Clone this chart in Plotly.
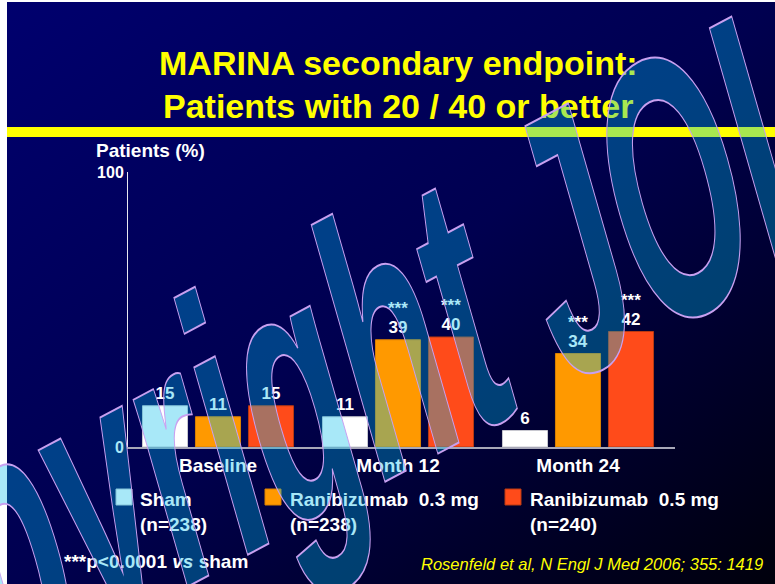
import base64
import plotly.graph_objects as go

# ---------------- data ----------------
categories = ["Baseline", "Month 12", "Month 24"]
series_names = ["Sham", "Ranibizumab 0.3 mg", "Ranibizumab 0.5 mg"]
series_n = ["(n=238)", "(n=238)", "(n=240)"]
sham = [15, 11, 6]
rani_03 = [11, 39, 34]
rani_05 = [15, 40, 42]
# significance markers (***p<0.0001 vs sham)
sig_sham = [False, False, False]
sig_03 = [False, True, True]
sig_05 = [False, True, True]
y_ticks = [0, 100]
title_lines = ["MARINA secondary endpoint:", "Patients with 20 / 40 or better"]
y_title = "Patients (%)"
footnote = "***p<0.0001 <i>vs</i> sham"
citation = "Rosenfeld et al, N Engl J Med 2006; 355: 1419"
watermark = "Copyright JOL"

# ---------------- style ----------------
W, H = 775, 584
FONT = "Liberation Sans, Arial, sans-serif"
colors = ["#ffffff", "#ff9900", "#ff4b1a"]
edge = ["#c8c8d0", "#d98000", "#b83a12"]
YELLOW = "#ffff00"


def px(x):
    return x / W


def py(y):
    return 1 - y / H


# plot area in pixels
X0, X1 = 128, 675
Y0, Y1 = 172, 447
BARGAP = 0.1167
BARGROUPGAP = 0.15
unit_px = 180.0  # pixels per category
slot_px = unit_px * (1 - BARGAP) / 3

fig = go.Figure()
all_series = [sham, rani_03, rani_05]
all_sig = [sig_sham, sig_03, sig_05]
for i, vals in enumerate(all_series):
    fig.add_trace(go.Bar(
        x=categories, y=vals, name=series_names[i],
        marker=dict(color=colors[i], line=dict(color=edge[i], width=1)),
        text=[str(v) for v in vals], textposition="outside",
        textfont=dict(family=FONT, size=17, color="white", weight="bold"),
        cliponaxis=False, showlegend=False,
    ))

annotations = []
# significance stars above value labels
for i, vals in enumerate(all_series):
    for j, v in enumerate(vals):
        if all_sig[i][j]:
            annotations.append(dict(
                x=categories[j], y=v, xref="x", yref="y",
                xshift=(i - 1) * slot_px, yshift=21, borderpad=0,
                text="***", showarrow=False, xanchor="center", yanchor="bottom",
                font=dict(family=FONT, size=17, color="white", weight="bold"),
            ))

# titles
annotations.append(dict(x=px(398), y=py(63), xref="paper", yref="paper",
                        text=title_lines[0], showarrow=False,
                        xanchor="center", yanchor="middle",
                        font=dict(family=FONT, size=34, color=YELLOW, weight="bold")))
annotations.append(dict(x=px(398), y=py(106), xref="paper", yref="paper",
                        text=title_lines[1], showarrow=False,
                        xanchor="center", yanchor="middle",
                        font=dict(family=FONT, size=34, color=YELLOW, weight="bold")))
# y title
annotations.append(dict(x=px(94), y=py(150), xref="paper", yref="paper",
                        text=y_title, showarrow=False,
                        xanchor="left", yanchor="middle",
                        font=dict(family=FONT, size=19, color="white", weight="bold")))
# manual legend
leg_sq_x = [116, 265, 505]
leg_txt_x = [138, 288, 528]
shapes = []
for i in range(3):
    shapes.append(dict(type="rect", xref="paper", yref="paper",
                       x0=px(leg_sq_x[i]), x1=px(leg_sq_x[i] + 16),
                       y0=py(505), y1=py(489),
                       fillcolor=colors[i], line=dict(color=edge[i], width=1)))
    annotations.append(dict(x=px(leg_txt_x[i]), y=py(487), xref="paper", yref="paper",
                            text=series_names[i].replace(" 0.", "\u00a0 0.") + "<br>" + series_n[i],
                            showarrow=False, xanchor="left", yanchor="top", align="left",
                            font=dict(family=FONT, size=19, color="white", weight="bold")))
# footnote and citation
annotations.append(dict(x=px(62), y=py(561), xref="paper", yref="paper",
                        text=footnote, showarrow=False, xanchor="left", yanchor="middle",
                        font=dict(family=FONT, size=19, color="white", weight="bold")))
annotations.append(dict(x=px(419), y=py(564), xref="paper", yref="paper",
                        text="<i>" + citation + "</i>", showarrow=False,
                        xanchor="left", yanchor="middle",
                        font=dict(family=FONT, size=16.5, color=YELLOW)))
# watermark (semi-transparent, on top of everything)
WM_INDEX = len(annotations)
annotations.append(dict(x=px(291), y=py(390), xref="paper", yref="paper",
                        text=watermark, showarrow=False, textangle=-28,
                        xanchor="center", yanchor="middle",
                        font=dict(family=FONT, size=175, color="rgba(0,188,235,0.34)",
                                  weight="bold")))

# yellow rule under the title
shapes.append(dict(type="rect", xref="paper", yref="paper",
                   x0=px(7), x1=1, y0=py(137), y1=py(127),
                   fillcolor=YELLOW, line=dict(width=0), layer="below"))

# gradient slide background
svg = ("<svg xmlns='http://www.w3.org/2000/svg' width='768' height='582' "
       "preserveAspectRatio='none' viewBox='0 0 768 582'>"
       "<defs><linearGradient id='g' x1='0' y1='0' x2='1' y2='1'>"
       "<stop offset='0' stop-color='#00006e'/>"
       "<stop offset='0.5' stop-color='#000050'/>"
       "<stop offset='1' stop-color='#00000c'/>"
       "</linearGradient></defs>"
       "<rect x='0' y='0' width='768' height='582' fill='url(#g)'/></svg>")
bg_src = "data:image/svg+xml;base64," + base64.b64encode(svg.encode()).decode()

fig.update_layout(
    width=W, height=H, autosize=False,
    margin=dict(l=0, r=0, t=0, b=0, pad=0, autoexpand=False),
    paper_bgcolor="white", plot_bgcolor="rgba(0,0,0,0)",
    barmode="group", bargap=BARGAP, bargroupgap=BARGROUPGAP,
    showlegend=False,
    images=[dict(source=bg_src, xref="paper", yref="paper",
                 x=px(7), y=py(2), sizex=px(W - 7), sizey=(H - 2) / H,
                 xanchor="left", yanchor="top", sizing="stretch", layer="below")],
    shapes=shapes,
    annotations=annotations,
    xaxis=dict(domain=[px(X0), px(X1)], range=[-0.5, 2.5 + (X1 - X0 - 3 * unit_px) / unit_px],
               showline=True, linecolor="#a8a8b8", linewidth=2, ticks="",
               showgrid=False, zeroline=False, automargin=False,
               tickfont=dict(family=FONT, size=19, color="white", weight="bold")),
    yaxis=dict(domain=[py(Y1), py(Y0)], range=[0, 100], tickvals=y_ticks,
               showline=True, linecolor="#e8e8f0", linewidth=1,
               ticks="inside", ticklen=5, tickcolor="#e8e8f0",
               showgrid=False, zeroline=False, automargin=False,
               tickfont=dict(family=FONT, size=16, color="white", weight="bold")),
)

# page placement (no body margin) and watermark outline / tall-letter styling
post_js = """
var de=document.documentElement, bd=document.body;
de.style.margin='0'; de.style.padding='0'; de.style.overflow='hidden';
bd.style.margin='0'; bd.style.padding='0'; bd.style.overflow='hidden';
bd.style.width='775px'; bd.style.height='584px';
var gd=document.getElementById('{plot_id}');
var wm=gd.querySelector('g.annotation[data-index="%d"] text');
if(wm){
  wm.style.stroke='#c8a0f0';
  wm.style.strokeWidth='1.6px';
  wm.style.vectorEffect='non-scaling-stroke';
  var b=wm.getBBox(); var cx=b.x+b.width/2, cy=b.y+b.height/2;
  var old=wm.getAttribute('transform')||'';
  wm.setAttribute('transform', old+' translate('+cx+','+cy+') skewX(-12) scale(1,2.06) translate('+(-cx)+','+(-cy)+')');
}
""" % WM_INDEX

fig.write_html("out.html", post_script=post_js, config={"displayModeBar": False})
